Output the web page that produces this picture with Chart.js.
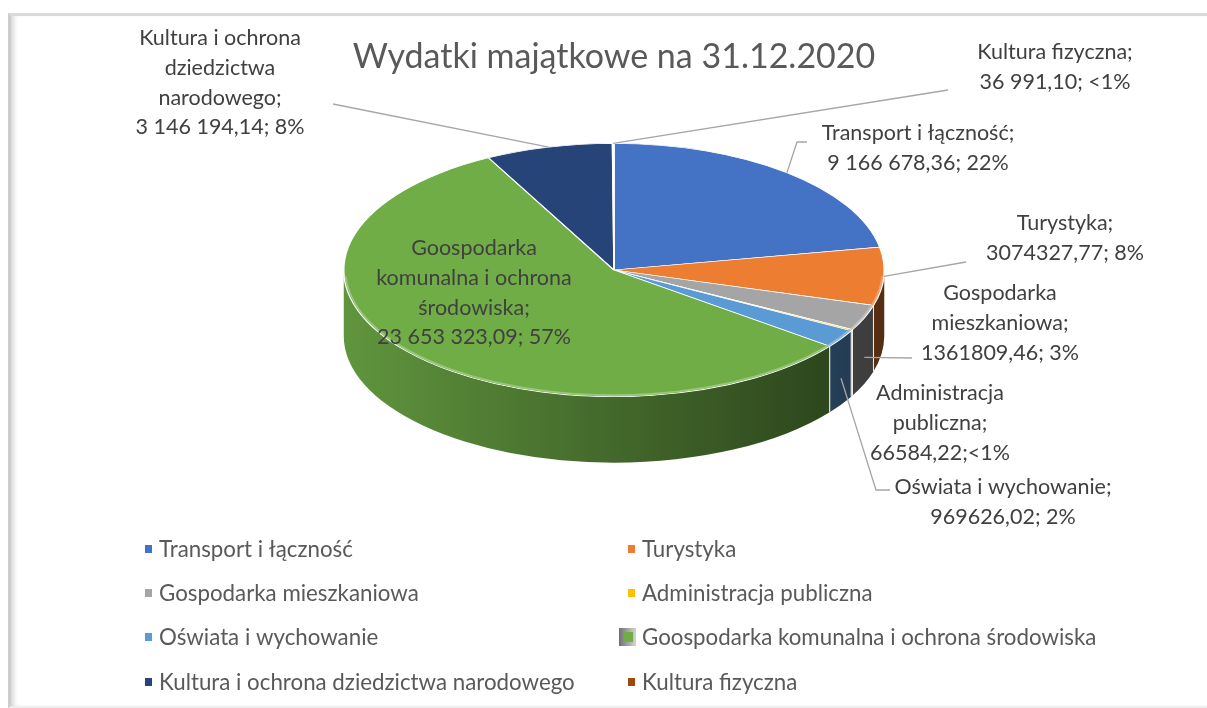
<!DOCTYPE html>
<html>
<head>
<meta charset="utf-8">
<script src="https://cdn.jsdelivr.net/npm/chart.js@4.4.1/dist/chart.umd.min.js"></script>
<style>
html, body { margin: 0; padding: 0; background: #fff; }
#wrap { position: relative; width: 1207px; height: 708px; overflow: hidden; }
#frame { position: absolute; left: 8px; top: 13px; width: 1220px; height: 690px;
  border-top: 3px solid #dadada; border-left: 3px solid #cdcdcd; border-bottom: 2px solid #eeeeee;
  box-shadow: inset 6px 0 5px -3px #d8d8d8; }
canvas { position: absolute; left: 0; top: 0; }
</style>
</head>
<body>
<div id="wrap">
  <div id="frame"></div>
  <canvas id="myChart" width="1207" height="708"></canvas>
</div>
<script>
const title = 'Wydatki majątkowe na 31.12.2020';
const categories = ['Transport i łączność', 'Turystyka', 'Gospodarka mieszkaniowa', 'Administracja publiczna',
  'Oświata i wychowanie', 'Goospodarka komunalna i ochrona środowiska',
  'Kultura i ochrona dziedzictwa narodowego', 'Kultura fizyczna'];
const values = [9166678.36, 3074327.77, 1361809.46, 66584.22, 969626.02, 23653323.09, 3146194.14, 36991.10];
const colors = ['#4472C4', '#ED7D31', '#A5A5A5', '#FFC000', '#5B9BD5', '#70AD47', '#264478', '#9E480E'];
const dataLabels = [
  ['Transport i łączność;', '9 166 678,36; 22%'],
  ['Turystyka;', '3074327,77; 8%'],
  ['Gospodarka', 'mieszkaniowa;', '1361809,46; 3%'],
  ['Administracja', 'publiczna;', '66584,22;<1%'],
  ['Oświata i wychowanie;', '969626,02; 2%'],
  ['Goospodarka', 'komunalna i ochrona', 'środowiska;', '23 653 323,09; 57%'],
  ['Kultura i ochrona', 'dziedzictwa', 'narodowego;', '3 146 194,14; 8%'],
  ['Kultura fizyczna;', '36 991,10; <1%']
];

// layout of the "3d" pie and its labels
const pie = { cy: 270, squash: 127 / 271, depth: 66 };
const labelPlace = [
  { x: 918, y: 133, leader: [[797, 142], [807, 142]] },
  { x: 1065, y: 223, leader: [[966, 262]] },
  { x: 1000, y: 293, leader: [[912, 358]], side: true },
  { x: 940, y: 393 },
  { x: 1003, y: 487, leader: [[876, 490], [890, 490]], side: true },
  { x: 474, y: 248 },
  { x: 220, y: 38, leader: [[333, 104]] },
  { x: 1055, y: 52, leader: [[948, 90]] }
];
const legendCols = [148, 631];
const legendRows = [549, 593, 637, 682];
const font = 'Lato, "Open Sans", sans-serif';

function shade(hex, f) {
  let r = parseInt(hex.substr(1, 2), 16), g = parseInt(hex.substr(3, 2), 16), b = parseInt(hex.substr(5, 2), 16);
  if (f <= 1) {
    r *= f; g *= f; b *= f;
  } else {
    // lighten towards white
    let t = f - 1;
    r += (255 - r) * t; g += (255 - g) * t; b += (255 - b) * t;
  }
  return 'rgb(' + Math.round(r) + ',' + Math.round(g) + ',' + Math.round(b) + ')';
}

function ellipseGeom(chart) {
  let a0 = chart.getDatasetMeta(0).data[0];
  let rx = a0.outerRadius;
  return { cx: a0.x, cy0: a0.y, cy: pie.cy, rx: rx, ry: rx * pie.squash };
}

const pie3d = {
  id: 'pie3d',
  beforeDatasetsDraw(chart) {
    const ctx = chart.ctx;
    const e = ellipseGeom(chart);
    const d = pie.depth;
    chart.getDatasetMeta(0).data.forEach((arc, i) => {
      let s = Math.max(arc.startAngle, 0), en = Math.min(arc.endAngle, Math.PI);
      if (en <= s) return;
      let g = ctx.createLinearGradient(e.cx - e.rx, 0, e.cx + e.rx, 0);
      g.addColorStop(0, shade(colors[i], 0.86));
      g.addColorStop(0.5, shade(colors[i], 0.6));
      g.addColorStop(1, shade(colors[i], 0.36));
      ctx.beginPath();
      ctx.ellipse(e.cx, e.cy, e.rx, e.ry, 0, s, en);
      ctx.ellipse(e.cx, e.cy + d, e.rx, e.ry, 0, en, s, true);
      ctx.closePath();
      ctx.fillStyle = g;
      ctx.fill();
      // thin light seams between the walls
      ctx.strokeStyle = 'rgba(255,255,255,0.85)';
      ctx.lineWidth = 1;
      [s, en].forEach(a => {
        if (a <= 0.001 || a >= Math.PI - 0.001) return;
        let x = e.cx + e.rx * Math.cos(a), y = e.cy + e.ry * Math.sin(a);
        ctx.beginPath(); ctx.moveTo(x, y); ctx.lineTo(x, y + d); ctx.stroke();
      });
    });
    ctx.save();
    ctx.translate(e.cx, e.cy);
    ctx.scale(1, pie.squash);
    ctx.translate(-e.cx, -e.cy0);
  },
  afterDatasetsDraw(chart) {
    const ctx = chart.ctx;
    ctx.restore();
    const e = ellipseGeom(chart);
    const meta = chart.getDatasetMeta(0);

    // light rim on the front edge of the top face
    meta.data.forEach((arc, i) => {
      let s = Math.max(arc.startAngle, 0.05), en = Math.min(arc.endAngle, Math.PI - 0.05);
      if (en <= s) return;
      ctx.beginPath();
      ctx.ellipse(e.cx, e.cy, e.rx - 1.5, e.ry - 1.5, 0, s, en);
      ctx.strokeStyle = shade(colors[i], 1.3);
      ctx.lineWidth = 2;
      ctx.stroke();
    });

    // title
    ctx.fillStyle = '#595959';
    ctx.font = '34px ' + font;
    ctx.textAlign = 'center';
    ctx.textBaseline = 'middle';
    ctx.fillText(title, 614, 57);

    // leader lines
    ctx.strokeStyle = '#a6a6a6';
    ctx.lineWidth = 1.3;
    meta.data.forEach((arc, i) => {
      let p = labelPlace[i];
      if (!p.leader) return;
      let mid = (arc.startAngle + arc.endAngle) / 2;
      let x = e.cx + e.rx * Math.cos(mid), y = e.cy + e.ry * Math.sin(mid);
      if (p.side) y += pie.depth * 0.6;
      ctx.beginPath();
      ctx.moveTo(x, y);
      p.leader.forEach(pt => ctx.lineTo(pt[0], pt[1]));
      ctx.stroke();
    });

    // data labels
    ctx.fillStyle = '#404040';
    ctx.font = '21.5px ' + font;
    dataLabels.forEach((lines, i) => {
      let p = labelPlace[i];
      lines.forEach((t, j) => ctx.fillText(t, p.x, p.y + j * 29.8));
    });

    // legend, two columns
    ctx.textAlign = 'left';
    ctx.font = '22.3px ' + font;
    categories.forEach((name, i) => {
      let x = legendCols[i % 2], y = legendRows[Math.floor(i / 2)];
      if (i === 5) {
        let g = ctx.createLinearGradient(x - 12, 0, x + 4, 0);
        g.addColorStop(0, '#6f6f6f'); g.addColorStop(1, '#d0d0d0');
        ctx.fillStyle = g;
        ctx.fillRect(x - 12, y - 9, 17, 18);
        ctx.fillStyle = colors[i];
        ctx.fillRect(x - 7, y - 5, 9, 10);
      } else {
        ctx.fillStyle = colors[i];
        ctx.fillRect(x - 3, y - 4, 7, 8);
      }
      ctx.fillStyle = '#595959';
      ctx.fillText(name, x + 11, y + 1);
    });
  }
};

let ctx = document.getElementById('myChart');
let myChart = new Chart(ctx, {
  type: 'pie',
  data: {
    labels: categories,
    datasets: [{
      data: values,
      backgroundColor: colors,
      borderColor: '#ffffff',
      borderWidth: 1.5
    }]
  },
  options: {
    responsive: false,
    animation: false,
    layout: { padding: { left: 343, right: 322, top: 0, bottom: 166 } },
    plugins: {
      legend: { display: false },
      tooltip: { enabled: false }
    }
  },
  plugins: [pie3d]
});
</script>
</body>
</html>
